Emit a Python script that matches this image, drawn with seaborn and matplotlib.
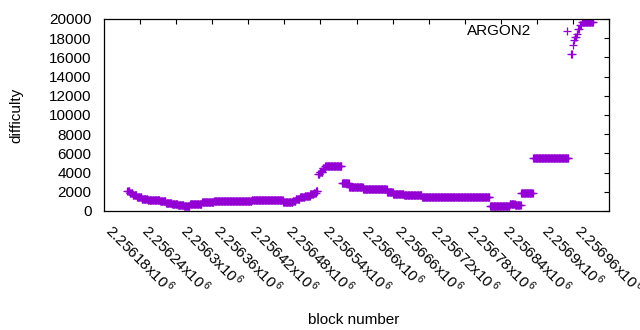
import numpy as np
import pandas as pd
import seaborn as sns
import matplotlib
matplotlib.use("Agg")
import matplotlib.pyplot as plt

# ---- data (block ranges with their difficulty) ----
seg_start = [2256159, 2256163, 2256168, 2256175, 2256183, 2256193, 2256205, 2256213,
             2256223, 2256233, 2256243, 2256253, 2256263, 2256273, 2256283, 2256293,
             2256303, 2256366, 2256418, 2256434, 2256439, 2256446, 2256454, 2256463,
             2256469, 2256473, 2256476, 2256479, 2256484, 2256488, 2256516, 2256528,
             2256551, 2256591, 2256601, 2256619, 2256649, 2256689, 2256762, 2256795,
             2256804, 2256814, 2256834, 2256897, 2256900, 2256902, 2256904, 2256907,
             2256909, 2256912, 2256915]
seg_end = [2256163, 2256168, 2256175, 2256183, 2256193, 2256205, 2256213, 2256223,
           2256233, 2256243, 2256253, 2256263, 2256273, 2256283, 2256293, 2256303,
           2256366, 2256418, 2256434, 2256439, 2256446, 2256454, 2256463, 2256469,
           2256473, 2256476, 2256479, 2256484, 2256488, 2256516, 2256528, 2256551,
           2256591, 2256601, 2256619, 2256649, 2256689, 2256762, 2256795, 2256804,
           2256814, 2256834, 2256893, 2256899, 2256901, 2256903, 2256906, 2256908,
           2256911, 2256914, 2256934]
seg_value = [2110, 1850, 1650, 1450, 1300, 1180, 1100, 1000,
             850, 720, 600, 560, 680, 780, 900, 980,
             1040, 1150, 900, 1050, 1300, 1500, 1600, 1750,
             1900, 2050, 3850, 4100, 4450, 4700, 2900, 2460,
             2250, 1940, 1770, 1630, 1490, 1420, 480, 750,
             600, 1850, 5480, 16400, 17260, 17780, 18100, 18400,
             19000, 19400, 19650]
series_label = "ARGON2"
x_ticks = list(range(2256180, 2256961, 60))
y_ticks = list(range(0, 20001, 2000))

blocks = np.concatenate([np.arange(s, e) for s, e in zip(seg_start, seg_end)])
values = np.concatenate([np.full(e - s, v) for s, e, v in zip(seg_start, seg_end, seg_value)])
df = pd.DataFrame({"block": blocks, "difficulty": values})

# ---- style ----
sns.set_theme(style="white")
plt.rcParams["font.family"] = ["Liberation Sans", "DejaVu Sans"]
plt.rcParams["mathtext.fontset"] = "custom"
plt.rcParams["mathtext.rm"] = "Liberation Sans"
plt.rcParams["mathtext.it"] = "Liberation Sans"
FS = 11

fig = plt.figure(figsize=(6.4, 3.3), dpi=100)
W, H = 640, 330
ax = fig.add_axes([104 / W, 1 - 211 / H, 505 / W, 192 / H])

sns.scatterplot(data=df, x="block", y="difficulty", marker="+", color="#9400d3",
                s=30, linewidth=0.9, ax=ax, label=series_label)

ax.set_xlim(2256120, 2256960)
ax.set_ylim(0, 20000)
ax.set_xticks(x_ticks)
ax.set_xticklabels([f"{t / 1e6:g}x10$^{{\\,6}}$" for t in x_ticks])
ax.set_yticks(y_ticks)
ax.set_yticklabels([str(v) for v in y_ticks])

for sp in ax.spines.values():
    sp.set_color("black")
    sp.set_linewidth(0.9)

ax.tick_params(axis="both", direction="in", top=True, right=True, length=3.5,
               width=0.8, colors="black", labelsize=FS)
ax.tick_params(axis="x", pad=7)
ax.tick_params(axis="y", pad=9)
plt.setp(ax.get_xticklabels(), rotation=-45, ha="center", va="top")

ax.set_xlabel("block number", fontsize=FS, color="black")
ax.set_ylabel("difficulty", fontsize=FS, color="black")
ax.xaxis.set_label_coords(0.495, -0.53)
ax.yaxis.set_label_coords(-0.159, 0.5)

leg = ax.legend(loc="center right", bbox_to_anchor=(582 / W, 1 - 31 / H),
                bbox_transform=fig.transFigure, frameon=False, markerfirst=False,
                fontsize=FS, handlelength=2.0, handletextpad=1.3,
                borderpad=0, borderaxespad=0, scatterpoints=1)
for t in leg.get_texts():
    t.set_color("black")

fig.savefig("out.png", dpi=100)
